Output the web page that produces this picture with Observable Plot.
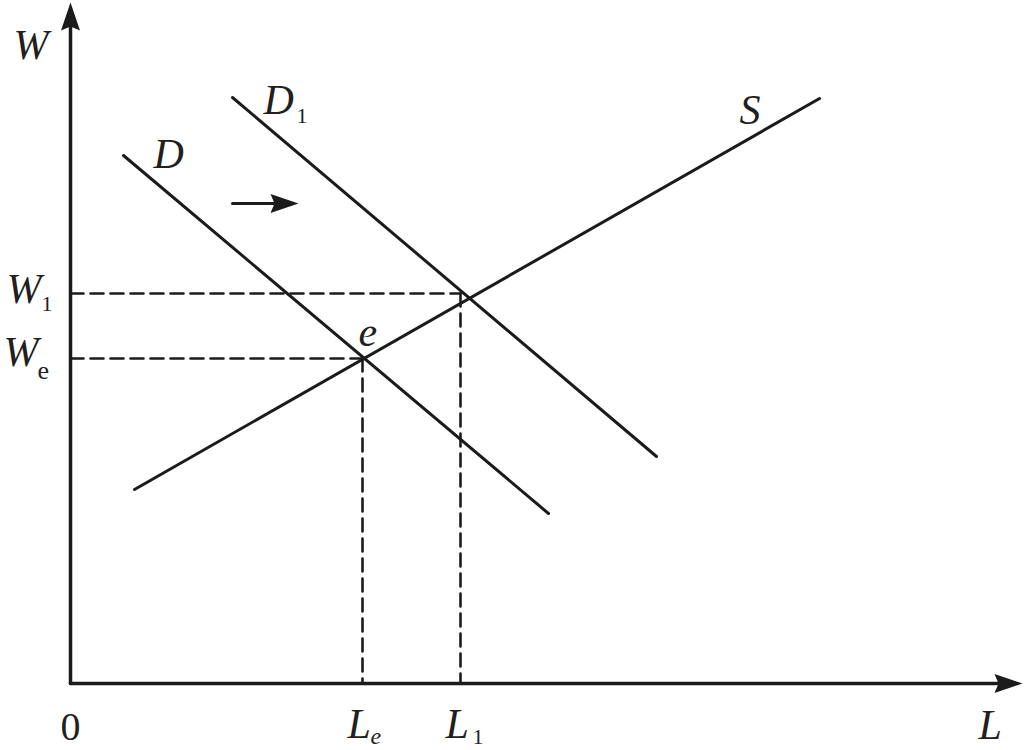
<!DOCTYPE html>
<html>
<head>
<meta charset="utf-8">
<script src="https://cdn.jsdelivr.net/npm/d3@7"></script>
<script src="https://cdn.jsdelivr.net/npm/@observablehq/plot@0.6"></script>
<style>
  html, body { margin: 0; padding: 0; background: #fff; }
  svg { display: block; }
</style>
</head>
<body>
<div id="chart"></div>
<script>
// ---- data ----
const curveD  = [{x: 5.3, y: 52.8}, {x: 47.8, y: 17.0}];
const curveD1 = [{x: 16.2, y: 58.6}, {x: 58.6, y: 22.7}];
const curveS  = [{x: 6.4, y: 19.4}, {x: 74.9, y: 58.5}];
const Le = 29.2, L1 = 39.0;   // employment levels
const We = 32.5, W1 = 39.0;   // wage levels
const xAxisEnd = 95.2, yAxisEnd = 68.1;
const shiftArrow = {x1: 16.2, x2: 22.8, y: 48.0};

const ink = "#1b1b1b";
const txt = "#231f20";
const font = "'Liberation Serif', 'Times New Roman', 'DejaVu Serif', serif";

// filled arrowhead pointing "up", tip at origin
const arrowHead = {
  draw(ctx) {
    const L = 28, W = 9.5, n = 4;
    ctx.moveTo(0, 0);
    ctx.lineTo(W, L);
    ctx.lineTo(0, L - n);
    ctx.lineTo(-W, L);
    ctx.closePath();
  }
};

const big = 42, sub = 22;
const label = (data, opts) => Plot.text(data, {
  x: "x", y: "y", text: "t", textAnchor: "start", lineAnchor: "bottom",
  fontFamily: font, fill: txt, ...opts
});
const dashed = {x: "x", y: "y", stroke: ink, strokeWidth: 2.6, strokeDasharray: "13,7"};

const plot = Plot.plot({
  width: 1024, height: 750,
  marginLeft: 70, marginRight: 0, marginTop: 0, marginBottom: 67,
  x: {domain: [0, 95.4], axis: null},
  y: {domain: [0, 68.3], axis: null},
  style: {background: "#fff", overflow: "visible"},
  marks: [
    // dashed guides
    Plot.line([{x: 0, y: W1}, {x: L1, y: W1}], dashed),
    Plot.line([{x: L1, y: W1}, {x: L1, y: 0}], dashed),
    Plot.line([{x: 0, y: We}, {x: Le, y: We}], dashed),
    Plot.line([{x: Le, y: We}, {x: Le, y: 0}], dashed),
    // curves
    Plot.line(curveD,  {x: "x", y: "y", stroke: ink, strokeWidth: 3}),
    Plot.line(curveD1, {x: "x", y: "y", stroke: ink, strokeWidth: 3}),
    Plot.line(curveS,  {x: "x", y: "y", stroke: ink, strokeWidth: 3}),
    // axes
    Plot.line([{x: 0, y: 0}, {x: xAxisEnd - 1, y: 0}], {x: "x", y: "y", stroke: ink, strokeWidth: 3.5}),
    Plot.line([{x: 0, y: 0}, {x: 0, y: yAxisEnd - 1}], {x: "x", y: "y", stroke: ink, strokeWidth: 3.5}),
    Plot.dot([{x: xAxisEnd, y: 0}], {x: "x", y: "y", symbol: arrowHead, rotate: 90, fill: ink, stroke: "none"}),
    Plot.dot([{x: 0, y: yAxisEnd}], {x: "x", y: "y", symbol: arrowHead, rotate: 0, fill: ink, stroke: "none"}),
    // shift arrow
    Plot.line([{x: shiftArrow.x1, y: shiftArrow.y}, {x: shiftArrow.x2 - 1.5, y: shiftArrow.y}], {x: "x", y: "y", stroke: ink, strokeWidth: 3}),
    Plot.dot([{x: shiftArrow.x2, y: shiftArrow.y}], {x: "x", y: "y", symbol: arrowHead, rotate: 90, fill: ink, stroke: "none"}),
    // labels
    label([{x: 0, y: yAxisEnd, t: "W"}], {fontSize: big, fontStyle: "italic", dx: -57, dy: 56}),
    label([{x: 0, y: W1, t: "W"}], {fontSize: big, fontStyle: "italic", dx: -64, dy: 9}),
    label([{x: 0, y: W1, t: "1"}], {fontSize: sub, dx: -29, dy: 17}),
    label([{x: 0, y: We, t: "W"}], {fontSize: big, fontStyle: "italic", dx: -67, dy: 7}),
    label([{x: 0, y: We, t: "e"}], {fontSize: 26, dx: -33, dy: 20}),
    label([{...curveD[0], t: "D"}], {fontSize: big, fontStyle: "italic", dx: 30, dy: 12}),
    label([{...curveD1[0], t: "D"}], {fontSize: big, fontStyle: "italic", dx: 31, dy: 16}),
    label([{...curveD1[0], t: "1"}], {fontSize: sub, dx: 64, dy: 25}),
    label([{...curveS[1], t: "S"}], {fontSize: big, fontStyle: "italic", dx: -80, dy: 25}),
    label([{x: Le, y: We, t: "e"}], {fontSize: big, fontStyle: "italic", dx: -4, dy: -13}),
    label([{x: 0, y: 0, t: "0"}], {fontSize: 40, dx: -10, dy: 56}),
    label([{x: Le, y: 0, t: "L"}], {fontSize: big, fontStyle: "italic", dx: -15, dy: 54}),
    label([{x: Le, y: 0, t: "e"}], {fontSize: 24, fontStyle: "italic", dx: 8, dy: 60}),
    label([{x: L1, y: 0, t: "L"}], {fontSize: big, fontStyle: "italic", dx: -15, dy: 54}),
    label([{x: L1, y: 0, t: "1"}], {fontSize: sub, dx: 12, dy: 60}),
    label([{x: xAxisEnd, y: 0, t: "L"}], {fontSize: big, fontStyle: "italic", dx: -44, dy: 55})
  ]
});
document.getElementById("chart").appendChild(plot);
</script>
</body>
</html>
